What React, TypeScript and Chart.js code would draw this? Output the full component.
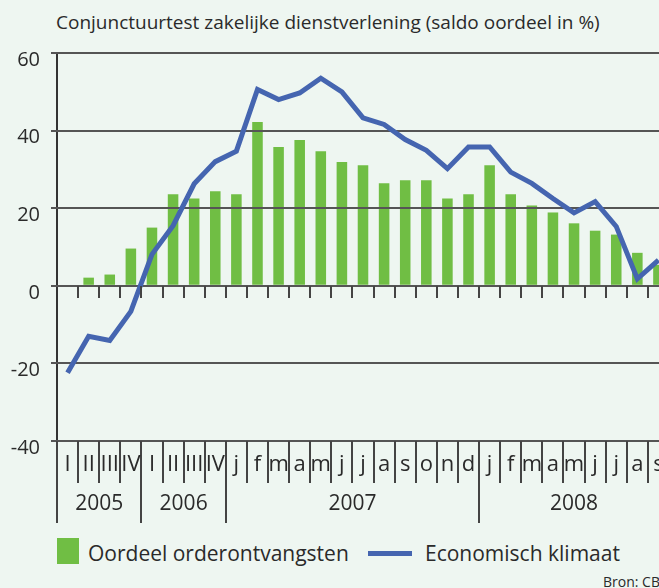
import React, { useEffect, useRef } from "react";
import { Chart, registerables } from "chart.js";

Chart.register(...registerables);

const categories = ["I", "II", "III", "IV", "I", "II", "III", "IV", "j", "f", "m", "a", "m", "j", "j", "a", "s", "o", "n", "d", "j", "f", "m", "a", "m", "j", "j", "a", "s"];
const yearLabels = ["2005", "2006", "2007", "2008"];
const yearStarts = [0, 4, 8, 20];
const orderontvangsten = [null, 2.1, 2.9, 9.6, 15.0, 23.6, 22.5, 24.4, 23.6, 42.2, 35.8, 37.6, 34.7, 31.9, 31.1, 26.4, 27.2, 27.2, 22.5, 23.6, 31.1, 23.6, 20.7, 18.9, 16.1, 14.2, 13.2, 8.5, 5.4];
const klimaat = [-22.4, -13.0, -14.1, -6.6, 8.1, 15.5, 26.3, 32.0, 34.7, 50.6, 48.0, 49.7, 53.5, 50.0, 43.3, 41.6, 37.7, 34.9, 30.2, 35.8, 35.8, 29.3, 26.4, 22.5, 18.8, 21.7, 15.3, 1.8, 6.6];
const yTicks = [-40, -20, 0, 20, 40, 60];

const FONT = '"Open Sans", "DejaVu Sans", sans-serif';
const BG = "#EEF6F1";
const GREEN = "#70BE44";
const BLUE = "#4565B0";
const GRID = "#555555";
const TEXT = "#2a2a2a";

const decor = {
  id: "decor",
  beforeDatasetDraw(chart: any, args: any) {
    if (args.meta.type !== "line") return;
    const { ctx, chartArea, scales } = chart;
    const y = scales.y;
    ctx.save();
    ctx.strokeStyle = GRID;
    ctx.lineWidth = 2;
    for (const v of yTicks) {
      const py = Math.round(y.getPixelForValue(v));
      ctx.beginPath();
      ctx.moveTo(chartArea.left - 6, py);
      ctx.lineTo(chartArea.right, py);
      ctx.stroke();
    }
    ctx.restore();
  },
  afterDraw(chart: any) {
    const { ctx, chartArea, scales } = chart;
    const x = scales.x;
    const y = scales.y;
    const bottom = chartArea.bottom;
    const y0 = Math.round(y.getPixelForValue(0));
    const half = (x.getPixelForValue(1) - x.getPixelForValue(0)) / 2;
    ctx.save();
    ctx.strokeStyle = "#444";
    ctx.lineWidth = 2;
    for (let i = 0; i < categories.length; i++) {
      const bx = Math.round(x.getPixelForValue(i) - half);
      const isYear = yearStarts.includes(i);
      ctx.beginPath();
      ctx.moveTo(bx, bottom);
      ctx.lineTo(bx, isYear ? bottom + 82 : bottom + 42);
      ctx.stroke();
      if (i > 0) {
        ctx.beginPath();
        ctx.moveTo(bx, y0);
        ctx.lineTo(bx, y0 + 12);
        ctx.stroke();
      }
    }
    ctx.fillStyle = TEXT;
    ctx.textAlign = "center";
    ctx.textBaseline = "middle";
    ctx.font = `22px ${FONT}`;
    categories.forEach((c, i) => {
      ctx.fillText(c, x.getPixelForValue(i), bottom + 24);
    });
    ctx.font = `21px ${FONT}`;
    yearLabels.forEach((lab, k) => {
      const s = yearStarts[k];
      const e = k + 1 < yearStarts.length ? yearStarts[k + 1] : categories.length;
      const cx = (x.getPixelForValue(s) + x.getPixelForValue(e - 1)) / 2;
      ctx.fillText(lab, cx, bottom + 63);
    });
    ctx.restore();
  },
};

export default function App() {
  const ref = useRef<HTMLCanvasElement>(null);
  useEffect(() => {
    if (!ref.current) return;
    const chart = new Chart(ref.current, {
      type: "bar",
      data: {
        labels: categories,
        datasets: [
          {
            type: "bar",
            label: "Oordeel orderontvangsten",
            data: orderontvangsten,
            backgroundColor: GREEN,
            borderWidth: 0,
            categoryPercentage: 1,
            barPercentage: 0.5,
            order: 1,
          } as any,
          {
            type: "line",
            label: "Economisch klimaat",
            data: klimaat,
            borderColor: BLUE,
            borderWidth: 5,
            pointRadius: 0,
            tension: 0,
            fill: false,
            order: 0,
          } as any,
        ],
      },
      options: {
        responsive: false,
        animation: false,
        layout: { padding: { left: 0, right: 1, top: 53, bottom: 89 } },
        plugins: { legend: { display: false }, tooltip: { enabled: false }, title: { display: false } },
        scales: {
          x: { display: false, offset: true },
          y: {
            min: -40,
            max: 60,
            afterFit: (s: any) => {
              s.width = 57;
            },
            ticks: {
              stepSize: 20,
              color: TEXT,
              font: { family: FONT, size: 20 },
              padding: 11,
              labelOffset: 7,
            },
            grid: { color: GRID, lineWidth: 2, tickLength: 6, tickColor: GRID },
            border: { display: true, color: "#333", width: 2 },
          },
        },
      },
      plugins: [decor],
    });
    return () => chart.destroy();
  }, []);

  return (
    <div style={{ position: "fixed", left: 0, top: 0, width: 659, height: 588, overflow: "hidden", background: BG, fontFamily: FONT, color: TEXT }}>
      <div style={{ position: "absolute", left: 56, top: 9, fontSize: 19, lineHeight: "26px", whiteSpace: "nowrap" }}>
        Conjunctuurtest zakelijke dienstverlening (saldo oordeel in %)
      </div>
      <div style={{ position: "absolute", left: 0, top: 0, width: 670, height: 530 }}>
        <canvas ref={ref} width={670} height={530} style={{ display: "block" }} />
      </div>
      <div style={{ position: "absolute", left: 57, top: 538, width: 22, height: 26, background: GREEN }} />
      <div style={{ position: "absolute", left: 88, top: 538, fontSize: 21, lineHeight: "30px", whiteSpace: "nowrap" }}>
        Oordeel orderontvangsten
      </div>
      <div style={{ position: "absolute", left: 368, top: 551, width: 44, height: 5, background: BLUE }} />
      <div style={{ position: "absolute", left: 425, top: 538, fontSize: 21, lineHeight: "30px", whiteSpace: "nowrap" }}>
        Economisch klimaat
      </div>
      <div style={{ position: "absolute", left: 603, top: 572, fontSize: 14, lineHeight: "20px", whiteSpace: "nowrap" }}>
        Bron: CBS
      </div>
    </div>
  );
}
